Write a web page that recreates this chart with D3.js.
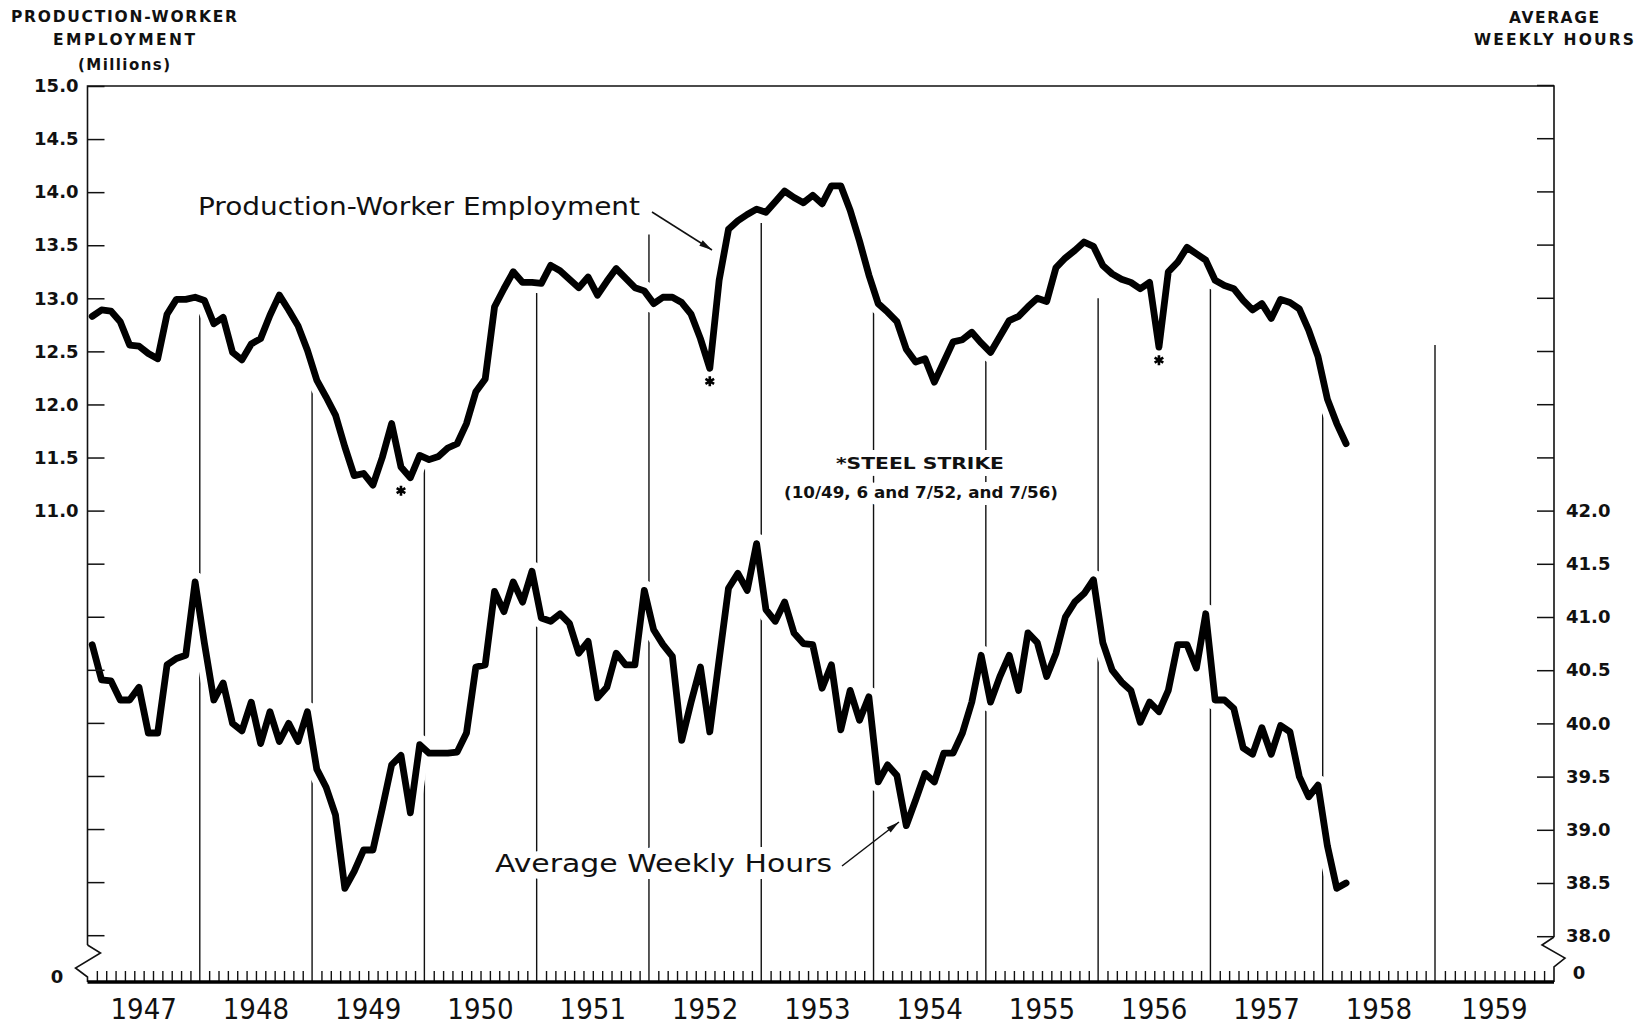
<!DOCTYPE html>
<html>
<head>
<meta charset="utf-8">
<script src="https://cdn.jsdelivr.net/npm/d3@7"></script>
<style>
  body { margin: 0; background: #fff; }
  svg { display: block; }
</style>
</head>
<body>
<div id="chart"></div>
<script>
var width = 1651, height = 1027;

// monthly, Jan 1947 .. Mar 1958
var employment = [
  12.83, 12.89, 12.88, 12.78, 12.56, 12.55, 12.48, 12.43, 12.85, 12.99, 12.99, 13.01, // 1947
  12.98, 12.76, 12.82, 12.49, 12.42, 12.57, 12.62, 12.84, 13.03, 12.89, 12.74, 12.51, // 1948
  12.23, 12.07, 11.90, 11.60, 11.33, 11.35, 11.24, 11.50, 11.82, 11.41, 11.31, 11.52, // 1949
  11.48, 11.51, 11.59, 11.63, 11.82, 12.12, 12.24, 12.92, 13.09, 13.25, 13.15, 13.15, // 1950
  13.14, 13.31, 13.26, 13.18, 13.10, 13.20, 13.03, 13.16, 13.28, 13.19, 13.10, 13.07, // 1951
  12.95, 13.01, 13.01, 12.96, 12.85, 12.62, 12.34, 13.17, 13.65, 13.73, 13.79, 13.84, // 1952
  13.81, 13.91, 14.01, 13.95, 13.90, 13.97, 13.89, 14.06, 14.06, 13.83, 13.54, 13.22, // 1953
  12.95, 12.87, 12.78, 12.52, 12.40, 12.43, 12.21, 12.40, 12.59, 12.61, 12.68, 12.58, // 1954
  12.49, 12.64, 12.79, 12.83, 12.92, 13.00, 12.97, 13.29, 13.38, 13.45, 13.53, 13.49, // 1955
  13.31, 13.23, 13.18, 13.15, 13.09, 13.15, 12.54, 13.25, 13.34, 13.48, 13.42, 13.36, // 1956
  13.17, 13.12, 13.09, 12.98, 12.89, 12.95, 12.81, 12.99, 12.96, 12.90, 12.70, 12.45, // 1957
  12.05, 11.82, 11.63                                                                  // 1958
];

var hours = [
  40.74, 40.41, 40.40, 40.22, 40.22, 40.34, 39.91, 39.91, 40.55, 40.61, 40.64, 41.33, // 1947
  40.75, 40.22, 40.38, 40.00, 39.93, 40.20, 39.81, 40.11, 39.83, 40.00, 39.83, 40.11, // 1948
  39.57, 39.40, 39.14, 38.45, 38.61, 38.81, 38.81, 39.20, 39.61, 39.70, 39.16, 39.80, // 1949
  39.72, 39.72, 39.72, 39.73, 39.91, 40.53, 40.55, 41.24, 41.05, 41.33, 41.14, 41.43, // 1950
  40.99, 40.96, 41.03, 40.94, 40.66, 40.77, 40.24, 40.34, 40.66, 40.55, 40.55, 41.25, // 1951
  40.88, 40.74, 40.63, 39.84, 40.20, 40.53, 39.92, 40.60, 41.27, 41.41, 41.25, 41.69, // 1952
  41.07, 40.96, 41.14, 40.85, 40.75, 40.74, 40.33, 40.55, 39.94, 40.31, 40.03, 40.25, // 1953
  39.45, 39.61, 39.51, 39.04, 39.28, 39.53, 39.45, 39.72, 39.72, 39.91, 40.20, 40.64, // 1954
  40.20, 40.44, 40.64, 40.31, 40.85, 40.76, 40.44, 40.66, 41.00, 41.14, 41.22, 41.35, // 1955
  40.76, 40.50, 40.39, 40.31, 40.01, 40.20, 40.11, 40.31, 40.74, 40.74, 40.52, 41.03, // 1956
  40.22, 40.22, 40.14, 39.77, 39.71, 39.96, 39.71, 39.98, 39.92, 39.50, 39.31, 39.42, // 1957
  38.85, 38.45, 38.50                                                                  // 1958
];

var years = [1947, 1948, 1949, 1950, 1951, 1952, 1953, 1954, 1955, 1956, 1957, 1958, 1959];
var empTicks = [15.0, 14.5, 14.0, 13.5, 13.0, 12.5, 12.0, 11.5, 11.0];
var hoursTicks = [42.0, 41.5, 41.0, 40.5, 40.0, 39.5, 39.0, 38.5, 38.0];
// steel strike months (index from Jan 1947): 10/49, 7/52, 7/56
var strikeMonths = [33, 66, 114];
// height (millions scale) where each year divider stops, 1948..1959
var dividerTops = [12.86, 12.16, 11.40, 13.05, 13.60, 13.71, 12.89, 12.42, 13.0, 13.09, 11.97, 12.56];

var x0 = 87.5, x1 = 1554, yTop = 86, yBase = 982;

// the printed time axis is a little uneven; the last year is drawn wider
var x = d3.scaleLinear().domain([0, 144, 156]).range([x0, 1435, x1]);
var yEmp = d3.scaleLinear().domain([11, 15]).range([510.6, yTop]);
var yHrs = d3.scaleLinear().domain([38, 42]).range([936.2, 510.6]);

var svg = d3.select('#chart').append('svg')
  .attr('width', width)
  .attr('height', height)
  .style('background', '#fff');

var bold = "'DejaVu Sans', sans-serif";

// year dividers
svg.append('g').selectAll('line')
  .data(dividerTops)
  .enter().append('line')
  .attr('x1', (d, i) => x((i + 1) * 12))
  .attr('x2', (d, i) => x((i + 1) * 12))
  .attr('y1', yBase)
  .attr('y2', d => yEmp(d))
  .attr('stroke', '#111')
  .attr('stroke-width', 1.4);

// text with white halo so the dividers break around it
function label(txt, cx, cy, size, weight, len, anchor) {
  var t = svg.append('text')
    .attr('x', cx)
    .attr('y', cy)
    .attr('text-anchor', anchor || 'middle')
    .style('font-family', bold)
    .style('font-size', size + 'px')
    .style('font-weight', weight)
    .attr('fill', '#111')
    .attr('stroke', '#fff')
    .attr('stroke-width', 14)
    .attr('stroke-linejoin', 'round')
    .style('paint-order', 'stroke')
    .text(txt);
  if (len) t.attr('textLength', len).attr('lengthAdjust', 'spacingAndGlyphs');
  return t;
}

label('Production-Worker Employment', 198, 215, 24, 'normal', 442, 'start');
label('Average Weekly Hours', 495, 872, 24, 'normal', 337, 'start');
label('*STEEL STRIKE', 920, 469, 15, 'bold', 168);
label('(10/49, 6 and 7/52, and 7/56)', 921, 498, 15, 'bold', 274);

// curves
var lineEmp = d3.line().x((d, i) => x(i + 0.5)).y(d => yEmp(d));
var lineHrs = d3.line().x((d, i) => x(i + 0.5)).y(d => yHrs(d));

[[employment, lineEmp], [hours, lineHrs]].forEach(function(s) {
  svg.append('path')
    .attr('d', s[1](s[0]))
    .attr('fill', 'none')
    .attr('stroke', '#fff')
    .attr('stroke-width', 20)
    .attr('stroke-linejoin', 'round')
    .attr('stroke-linecap', 'round');
});
[[employment, lineEmp], [hours, lineHrs]].forEach(function(s) {
  svg.append('path')
    .attr('d', s[1](s[0]))
    .attr('fill', 'none')
    .attr('stroke', '#000')
    .attr('stroke-width', 6.8)
    .attr('stroke-linejoin', 'round')
    .attr('stroke-linecap', 'round');
});

// arrows from labels
function arrow(xa, ya, xb, yb) {
  svg.append('line')
    .attr('x1', xa).attr('y1', ya).attr('x2', xb).attr('y2', yb)
    .attr('stroke', '#111').attr('stroke-width', 1.5);
  var a = Math.atan2(yb - ya, xb - xa), L = 13, w = 3.2;
  var c = Math.cos(a), s = Math.sin(a);
  var p = [[xb, yb],
           [xb - L * c + w * s, yb - L * s - w * c],
           [xb - L * c - w * s, yb - L * s + w * c]];
  svg.append('path').attr('d', 'M' + p.join('L') + 'Z').attr('fill', '#111');
}
arrow(652, 212, 712, 250);
arrow(842, 866, 899, 822);

// strike asterisks
svg.append('g').selectAll('path')
  .data(strikeMonths)
  .enter().append('path')
  .attr('d', d3.symbol(d3.symbolAsterisk, 70))
  .attr('transform', d => 'translate(' + x(d + 0.5) + ',' +
        (yEmp(Math.min(employment[d], employment[d + 1])) + 13) + ')')
  .attr('fill', 'none')
  .attr('stroke', '#000')
  .attr('stroke-width', 2.6);

// left axis: ticks every 0.5 down to the break, labels 15.0 .. 11.0
var leftVals = d3.range(17).map(k => 15 - k * 0.5);
var gl = svg.append('g')
  .attr('transform', 'translate(' + x0 + ',0)')
  .call(d3.axisLeft(yEmp)
    .tickValues(leftVals)
    .tickSizeInner(-17).tickSizeOuter(0).tickPadding(9)
    .tickFormat(d => d >= 11 ? d3.format('.1f')(d) : ''));
gl.select('.domain').remove();
gl.selectAll('line').attr('stroke', '#111').attr('stroke-width', 1.5);
gl.selectAll('text').style('font-family', bold).style('font-size', '18px')
  .style('font-weight', 'bold').attr('fill', '#111');

var rightVals = d3.range(17).map(k => 46 - k * 0.5);
var gr = svg.append('g')
  .attr('transform', 'translate(' + x1 + ',0)')
  .call(d3.axisRight(yHrs)
    .tickValues(rightVals)
    .tickSizeInner(-17).tickSizeOuter(0).tickPadding(12)
    .tickFormat(d => d <= 42 ? d3.format('.1f')(d) : ''));
gr.select('.domain').remove();
gr.selectAll('line').attr('stroke', '#111').attr('stroke-width', 1.5);
gr.selectAll('text').style('font-family', bold).style('font-size', '18px')
  .style('font-weight', 'bold').attr('fill', '#111');

// frame with scale breaks
var path = d3.path();
path.moveTo(x0, 945); path.lineTo(x0, yTop); path.lineTo(x1, yTop); path.lineTo(x1, 937);
svg.append('path').attr('d', path.toString())
  .attr('fill', 'none').attr('stroke', '#111').attr('stroke-width', 1.6);
svg.append('path')
  .attr('d', d3.line()([[x0, 945], [x0 + 13, 953], [x0 - 12, 968], [x0, 977], [x0, yBase]]))
  .attr('fill', 'none').attr('stroke', '#111').attr('stroke-width', 1.6);
svg.append('path')
  .attr('d', d3.line()([[x1, 937], [x1 - 12, 945], [x1 + 11, 958], [x1, 967], [x1, yBase]]))
  .attr('fill', 'none').attr('stroke', '#111').attr('stroke-width', 1.6);

svg.append('text').attr('x', 57).attr('y', 983).attr('text-anchor', 'middle')
  .style('font-family', bold).style('font-size', '18px').style('font-weight', 'bold')
  .attr('fill', '#111').text('0');
svg.append('text').attr('x', 1579).attr('y', 979).attr('text-anchor', 'middle')
  .style('font-family', bold).style('font-size', '18px').style('font-weight', 'bold')
  .attr('fill', '#111').text('0');

// bottom axis with month ticks
var monthTicks = d3.range(1, years.length * 12).filter(m => m % 12 !== 0);
var gb = svg.append('g')
  .attr('transform', 'translate(0,' + yBase + ')')
  .call(d3.axisBottom(x).tickValues(monthTicks).tickSizeInner(-11).tickSizeOuter(0).tickFormat(''));
gb.select('.domain').remove();
gb.selectAll('line').attr('stroke', '#111').attr('stroke-width', 1.4);
svg.append('line').attr('x1', x0).attr('x2', x1).attr('y1', yBase).attr('y2', yBase)
  .attr('stroke', '#000').attr('stroke-width', 3.5);

svg.append('g').selectAll('text')
  .data(years)
  .enter().append('text')
  .attr('x', (d, i) => x(i * 12 + 6))
  .attr('y', 1019)
  .attr('text-anchor', 'middle')
  .style('font-family', "'Liberation Sans Narrow', 'DejaVu Sans Condensed', sans-serif")
  .style('font-size', '29px')
  .attr('fill', '#111')
  .text(d => d);

// axis titles
function title(lines, cx) {
  lines.forEach(function(l) {
    var t = svg.append('text')
      .attr('x', cx).attr('y', l[1])
      .attr('text-anchor', 'middle')
      .style('font-family', bold).style('font-size', l[3] + 'px').style('font-weight', 'bold')
      .attr('fill', '#111')
      .text(l[0]);
    if (l[2]) t.attr('textLength', l[2]).attr('lengthAdjust', 'spacing');
  });
}
title([['PRODUCTION-WORKER', 22, 226, 15.5], ['EMPLOYMENT', 45, 142, 15.5], ['(Millions)', 70, 92, 15]], 124);
title([['AVERAGE', 23, 90, 15.5], ['WEEKLY HOURS', 45, 160, 15.5]], 1554);
</script>
</body>
</html>
